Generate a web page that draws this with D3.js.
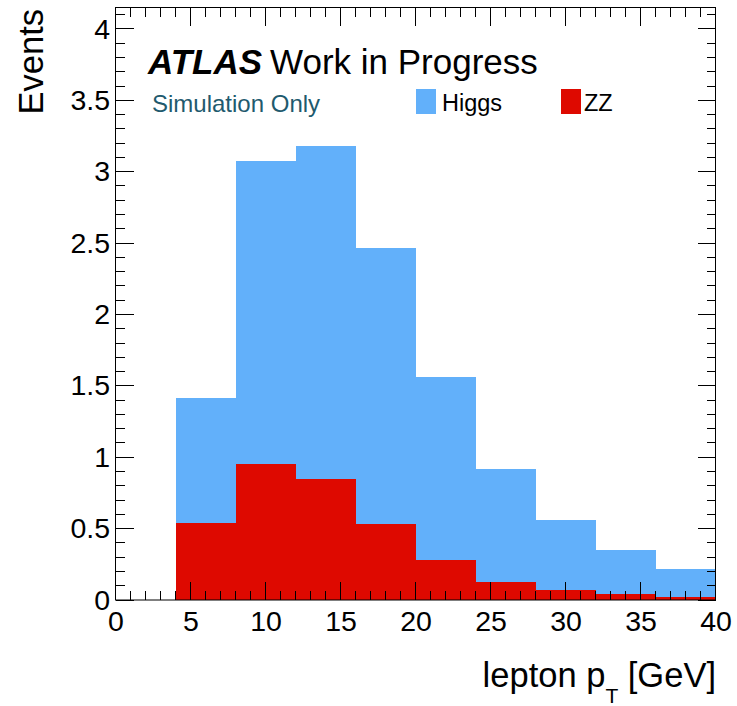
<!DOCTYPE html>
<html>
<head>
<meta charset="utf-8">
<script src="https://cdn.jsdelivr.net/npm/d3@7"></script>
<style>
  html, body { margin: 0; padding: 0; background: #fff; }
  svg { display: block; }
  text { font-family: "Liberation Sans", Arial, Helvetica, sans-serif; }
</style>
</head>
<body>
<svg id="chart" width="737" height="706"></svg>
<script>
// ---- data ----
const binLow = [4, 8, 12, 16, 20, 24, 28, 32, 36];
const binWidth = 4;
const zzValues    = [0.540, 0.956, 0.851, 0.531, 0.278, 0.128, 0.068, 0.040, 0.019];
const higgsValues = [0.873, 2.121, 2.331, 1.935, 1.284, 0.788, 0.489, 0.307, 0.198];
const seriesNames = ["ZZ", "Higgs"];
const seriesColors = {"ZZ": "#de0900", "Higgs": "#62b0fa"};
const xTicks = [0, 5, 10, 15, 20, 25, 30, 35, 40];
const yTicks = [0, 0.5, 1, 1.5, 2, 2.5, 3, 3.5, 4];
const xDomain = [0, 40];
const yDomain = [0, 4.15];

// ---- layout ----
const svg = d3.select("#chart");
const L = 115.5, R = 715.5, T = 7.5, B = 600;
const x = d3.scaleLinear().domain(xDomain).range([L, R]);
const y = d3.scaleLinear().domain(yDomain).range([B, T]);

const table = binLow.map((lo, i) => ({lo: lo, ZZ: zzValues[i], Higgs: higgsValues[i]}));
const stacked = d3.stack().keys(seriesNames)(table);

const g = svg.append("g");
stacked.forEach(layer => {
  // each layer as one step-shaped polygon so adjacent bins have no seams
  const top = [];
  layer.forEach(d => { top.push([x(d.data.lo), y(d[1])]); top.push([x(d.data.lo + binWidth), y(d[1])]); });
  const bottom = [];
  layer.slice().reverse().forEach(d => { bottom.push([x(d.data.lo + binWidth), y(d[0])]); bottom.push([x(d.data.lo), y(d[0])]); });
  g.append("path")
    .attr("d", d3.line()(top.concat(bottom)) + "Z")
    .attr("fill", seriesColors[layer.key])
    .attr("stroke", "none")
    .attr("shape-rendering", "crispEdges");
});

// ---- axes ----
const majorLen = 18, minorLen = 9;
const xMinor = d3.range(0, 41, 1).filter(v => v % 5 !== 0);
const yMinor = d3.range(0, 42, 1).map(v => v / 10).filter(v => Math.round(v * 10) % 5 !== 0);

function tickLines(vals, len, orient) {
  const grp = svg.append("g").attr("stroke", "#000").attr("stroke-width", 1)
    .attr("shape-rendering", "crispEdges");
  vals.forEach(v => {
    if (orient === "bottom") grp.append("line").attr("x1", x(v)).attr("x2", x(v)).attr("y1", B).attr("y2", B - len);
    if (orient === "top") grp.append("line").attr("x1", x(v)).attr("x2", x(v)).attr("y1", T).attr("y2", T + len);
    if (orient === "left") grp.append("line").attr("x1", L).attr("x2", L + len).attr("y1", y(v)).attr("y2", y(v));
    if (orient === "right") grp.append("line").attr("x1", R).attr("x2", R - len).attr("y1", y(v)).attr("y2", y(v));
  });
}

const xAxis = d3.axisBottom(x).tickValues(xTicks).tickSize(0).tickPadding(11).tickFormat(d3.format("d"));
const xg = svg.append("g").attr("transform", `translate(0,${B})`).call(xAxis);
xg.select(".domain").remove();
xg.selectAll("text").attr("font-size", 28.5).attr("fill", "#000")
  .attr("font-family", "Liberation Sans, Arial, sans-serif");

const yAxis = d3.axisLeft(y).tickValues(yTicks).tickSize(0).tickPadding(5).tickFormat(d => d3.format("")(d));
const yg = svg.append("g").attr("transform", `translate(${L - 0.5},0)`).call(yAxis);
yg.select(".domain").remove();
yg.selectAll("text").attr("font-size", 28.5).attr("fill", "#000")
  .attr("font-family", "Liberation Sans, Arial, sans-serif");

tickLines(xTicks, majorLen, "bottom");
tickLines(xMinor, minorLen, "bottom");
tickLines(xTicks, majorLen, "top");
tickLines(xMinor, minorLen, "top");
tickLines(yTicks, majorLen, "left");
tickLines(yMinor, minorLen, "left");
tickLines(yTicks, majorLen, "right");
tickLines(yMinor, minorLen, "right");

// frame
svg.append("rect").attr("x", L).attr("y", T).attr("width", R - L).attr("height", B - T)
  .attr("fill", "none").attr("stroke", "#000").attr("stroke-width", 1);

// ---- titles ----
svg.append("text")
  .attr("transform", `translate(43,9) rotate(-90)`)
  .attr("text-anchor", "end")
  .attr("font-size", 34.5)
  .text("Events");

const xt = svg.append("text").attr("x", 716).attr("y", 687).attr("text-anchor", "end").attr("font-size", 34.5);
xt.append("tspan").text("lepton p");
xt.append("tspan").attr("font-size", 21).attr("dy", 15.5).text("T");
xt.append("tspan").attr("dy", -15.5).text(" [GeV]");

// ATLAS label
const at = svg.append("text").attr("x", 148).attr("y", 74).attr("font-size", 35);
at.append("tspan").attr("font-weight", "bold").attr("font-style", "italic").text("ATLAS");
at.append("tspan").attr("dx", 8).text("Work in Progress");

svg.append("text").attr("x", 152).attr("y", 112).attr("font-size", 24)
  .attr("fill", "#1f5a6e").text("Simulation Only");

// legend
const legendItems = [
  {name: "Higgs", bx: 416, tx: 442},
  {name: "ZZ", bx: 561, tx: 584}
];
legendItems.forEach(it => {
  svg.append("rect").attr("x", it.bx).attr("y", 89).attr("width", 20).attr("height", 25)
    .attr("fill", seriesColors[it.name]);
  svg.append("text").attr("x", it.tx).attr("y", 110.5).attr("font-size", 23.5).text(it.name);
});
</script>
</body>
</html>
